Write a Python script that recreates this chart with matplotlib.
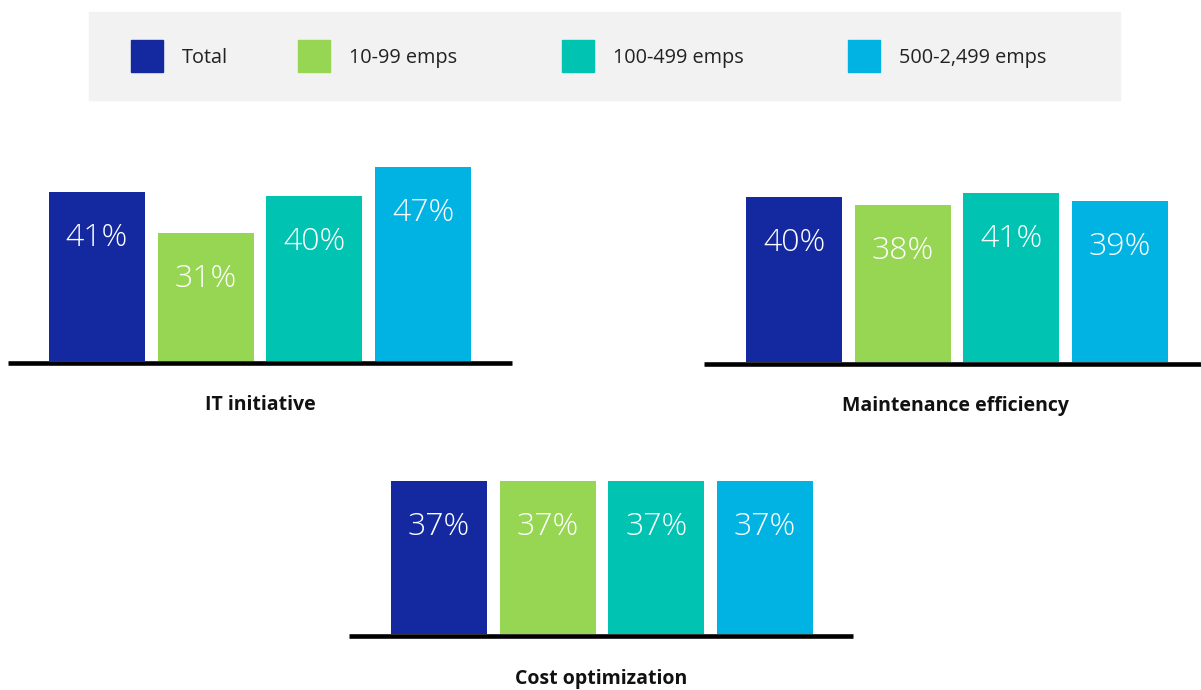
import matplotlib.pyplot as plt
from matplotlib.patches import Rectangle

plt.rcParams['font.family'] = ['Open Sans', 'DejaVu Sans']

series = ['Total', '10-99 emps', '100-499 emps', '500-2,499 emps']
colors = ['#1428a0', '#97d652', '#00c3b2', '#00b3e3']

groups = ['IT initiative', 'Maintenance efficiency', 'Cost optimization']
it_initiative = [41, 31, 40, 47]
maintenance = [40, 38, 41, 39]
cost_opt = [37, 37, 37, 37]
values = [it_initiative, maintenance, cost_opt]

W, H = 1201, 690
fig = plt.figure(figsize=(W / 100, H / 100), dpi=100)
fig.patch.set_facecolor('white')

px_per_pct = 4.13
pitch = 108.67

def fx(x):
    return x / W

def fy(y):
    return 1 - y / H

# legend strip
fig.patches.append(Rectangle((fx(89), fy(100)), fx(1120 - 89), (100 - 12) / H,
                             transform=fig.transFigure, color='#f2f2f2', zorder=0))
sq_x = [131, 298, 562, 848]
for name, c, x in zip(series, colors, sq_x):
    fig.patches.append(Rectangle((fx(x), fy(72)), fx(32), 32 / H,
                                 transform=fig.transFigure, color=c, zorder=1))
    fig.text(fx(x + 51), fy(58), name, fontsize=14.3, color='#222222', va='center', ha='left')

# (axes left, axes right, baseline y, first bar center, title x, title y)
layout = [
    (8, 512, 361, 97, 260, 405),
    (704, 1209, 362, 794, 956, 406),
    (349, 853, 634, 439, 601, 679),
]

for name, vals, (left, right, base, c0, tx, ty) in zip(groups, values, layout):
    ax_h = 210
    ax = fig.add_axes([fx(left), fy(base), fx(right - left), ax_h / H])
    ax.set_xlim((left - c0) / pitch, (right - c0) / pitch)
    ax.set_ylim(0, ax_h / px_per_pct)
    ax.bar(range(len(vals)), vals, width=96 / pitch, color=colors)
    ax.axhline(-2.4 / px_per_pct, color='black', lw=3.3, solid_capstyle='butt', clip_on=False)
    for i, v in enumerate(vals):
        ax.annotate(f'{v}%', (i, v), xytext=(0, -46 * 0.72), textcoords='offset points',
                    ha='center', va='center', color='white', fontsize=23, fontweight='light')
    ax.axis('off')
    fig.text(fx(tx), fy(ty), name, fontsize=14, fontweight='bold', ha='center', va='center',
             color='#111111')

fig.savefig('out.png', dpi=100)
